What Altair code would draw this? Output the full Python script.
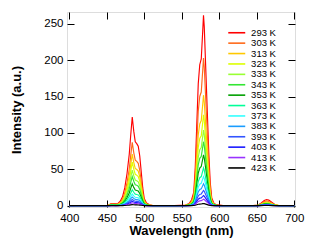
import altair as alt
import pandas as pd

# Temperatures (series) and colours
temps = ["293 K", "303 K", "313 K", "323 K", "333 K", "343 K", "353 K",
         "363 K", "373 K", "383 K", "393 K", "403 K", "413 K", "423 K"]
colors = ["#ff0000", "#ff6a1a", "#ffc800", "#ddff00", "#99ff33", "#33e633",
          "#00a000", "#00ff99", "#33ffff", "#1a9cff", "#3355ff", "#1a1aff",
          "#9933ff", "#000000"]

# Band shapes (normalised to its own peak)
wl_band1 = [450, 453, 456, 459, 462, 465, 468, 471, 474, 477, 480, 482, 484,
            486, 488, 490, 492, 494, 496, 498, 500, 503, 507, 512]
shape_band1 = [0, 0.01, 0.025, 0.025, 0.02, 0.025, 0.05, 0.1, 0.2, 0.36, 0.58,
               0.8, 1.0, 0.84, 0.72, 0.7, 0.67, 0.56, 0.38, 0.2, 0.08, 0.03,
               0.01, 0]
wl_band2 = [540, 555, 560, 563, 566, 568, 570, 572, 574, 576, 578, 579, 580,
            582, 584, 586, 588, 590, 593, 597, 605]
shape_band2 = [0, 0.003, 0.012, 0.03, 0.07, 0.2, 0.42, 0.64, 0.74, 0.77, 0.92,
               1.0, 0.94, 0.72, 0.5, 0.28, 0.12, 0.04, 0.012, 0.004, 0]
wl_band3 = [645, 652, 656, 660, 663, 666, 670, 674, 680]
shape_band3 = [0, 0.1, 0.45, 0.85, 1.0, 0.9, 0.55, 0.2, 0]

# Peak intensities for each temperature
peak_band1 = [122, 87, 71, 60, 49, 40, 30, 22, 16, 12, 8.5, 6, 4, 1.5]
peak_band2 = [262, 203, 152, 125, 104, 88, 70, 52, 40, 30, 21, 14, 9, 3]
peak_band3 = [8.5, 6.5, 5, 4, 3.5, 3, 2.5, 2, 1.5, 1.2, 1, 0.8, 0.5, 0.3]

x_ticks = [400, 450, 500, 550, 600, 650, 700]
y_ticks = [0, 50, 100, 150, 200, 250]

rows = []
for i, t in enumerate(temps):
    pts = [(400, 0.0)]
    pts += [(w, s * peak_band1[i]) for w, s in zip(wl_band1, shape_band1)]
    pts += [(w, s * peak_band2[i]) for w, s in zip(wl_band2, shape_band2)]
    pts += [(w, s * peak_band3[i]) for w, s in zip(wl_band3, shape_band3)]
    pts += [(700, 0.0)]
    for k, (w, v) in enumerate(pts):
        rows.append({"T": t, "order": i, "wl": w, "I": v, "k": k})
df = pd.DataFrame(rows)

W, H = 228, 195
XDOM = [397, 701]
YDOM = [-1.8, 266.4]
FONT = "Liberation Sans"

xs = alt.Scale(domain=XDOM, nice=False, zero=False)
ys = alt.Scale(domain=YDOM, nice=False, zero=False)

main = alt.Chart(df).mark_line(strokeWidth=1.15, clip=True).encode(
    x=alt.X("wl:Q", scale=xs, axis=alt.Axis(
        orient="bottom", values=x_ticks, ticks=False, domain=False, grid=False,
        labelFontSize=11.5, labelPadding=5, labelFlush=False, labelColor="black",
        title="Wavelength (nm)", titleFontSize=13, titleFontWeight="bold",
        titlePadding=1, titleColor="black")),
    y=alt.Y("I:Q", scale=ys, axis=alt.Axis(
        orient="left", values=y_ticks, ticks=False, domain=False, grid=False,
        labelFontSize=11.5, labelPadding=4, labelFlush=False, labelColor="black",
        title="Intensity (a.u.)", titleFontSize=13, titleFontWeight="bold",
        titlePadding=20, titleColor="black")),
    color=alt.Color("T:N", scale=alt.Scale(domain=temps, range=colors),
                    legend=alt.Legend(
                        orient="none", legendX=165, legendY=16, title=None,
                        symbolType="M-3,0H3", symbolSize=32,
                        symbolStrokeWidth=1.6, labelFontSize=9.5,
                        labelOffset=9.6, rowPadding=-0.6, labelColor="black")),
    detail="T:N",
    order="k:Q",
)

def tick_layer(xorient, yorient):
    return alt.Chart(df).mark_line(opacity=0).encode(
        x=alt.X("wl:Q", scale=xs, axis=alt.Axis(
            orient=xorient, offset=-H, values=x_ticks, labels=False,
            domain=False, grid=False, ticks=True, tickSize=7,
            tickColor="black", title=None)),
        y=alt.Y("I:Q", scale=ys, axis=alt.Axis(
            orient=yorient, offset=-W, values=y_ticks, labels=False,
            domain=False, grid=False, ticks=True, tickSize=7,
            tickColor="black", title=None)),
        detail="T:N",
    )

chart = alt.layer(
    main,
    tick_layer("top", "right"),
    tick_layer("bottom", "left"),
).resolve_scale(x="independent", y="independent").properties(
    width=W, height=H,
    autosize=alt.AutoSizeParams(type="none"),
    padding={"left": 59, "top": 4, "right": 18, "bottom": 32},
).configure_view(stroke="black", strokeWidth=1).configure(
    font=FONT
).configure_axis(labelFont=FONT, titleFont=FONT)

chart.save("out.html", embed_options={"renderer": "svg", "actions": False})
